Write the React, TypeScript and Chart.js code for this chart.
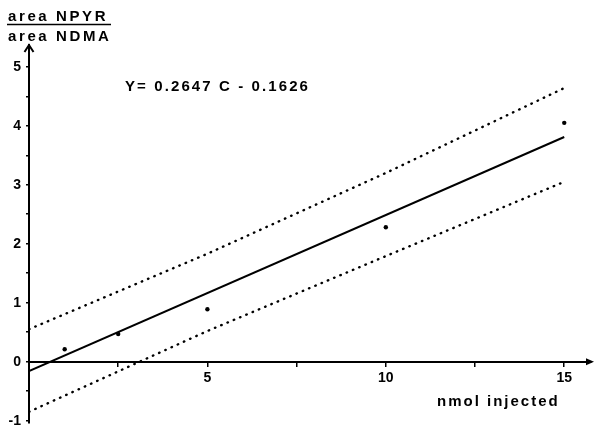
import React, { useEffect, useRef } from "react";
import { Chart, registerables } from "chart.js";

Chart.register(...registerables);

// Measured data points (nmol injected vs area ratio)
const pointX = [1, 2.5, 5, 10, 15];
const pointY = [0.21, 0.47, 0.89, 2.28, 4.05];

// Regression line Y = 0.2647 C - 0.1626 (ends)
const fitX = [0, 15];
const fitY = [-0.16, 3.81];

// Confidence bands (dotted)
const bandX = [0, 5, 10, 15];
const upperY = [0.55, 1.83, 3.2, 4.64];
const lowerY = [-0.85, 0.52, 1.79, 3.05];

// Ticks
const xTicks = [2.5, 5, 7.5, 10, 12.5, 15];
const xTickLabels = [5, 10, 15];
const yTicks = [-1, -0.5, 0, 0.5, 1, 1.5, 2, 2.5, 3, 3.5, 4, 4.5, 5];
const yTickLabels = [-1, 0, 1, 2, 3, 4, 5];

const titleTop = "area NPYR";
const titleBottom = "area NDMA";
const equation = "Y= 0.2647 C - 0.1626";
const xTitle = "nmol injected";

const FONT = "'Liberation Sans', Arial, sans-serif";

const pts = (xs: number[], ys: number[]) => xs.map((x, i) => ({ x, y: ys[i] }));

const decorPlugin = {
  id: "decor",
  afterDraw(chart: any) {
    const ctx = chart.ctx;
    const y = chart.scales.y;
    const left = chart.chartArea.left;
    const top = chart.chartArea.top;
    const right = chart.chartArea.right;
    const zeroY = y.getPixelForValue(0);
    ctx.save();
    ctx.strokeStyle = "#000";
    ctx.fillStyle = "#000";
    // y arrow (open)
    ctx.lineWidth = 2;
    ctx.beginPath();
    ctx.moveTo(left - 4.5, top + 7);
    ctx.lineTo(left, top);
    ctx.lineTo(left + 4.5, top + 7);
    ctx.stroke();
    // x arrow (filled)
    ctx.beginPath();
    ctx.moveTo(right + 3, zeroY);
    ctx.lineTo(right - 5, zeroY - 3.5);
    ctx.lineTo(right - 5, zeroY + 3.5);
    ctx.closePath();
    ctx.fill();

    ctx.font = `bold 15px ${FONT}`;
    ctx.textAlign = "left";
    ctx.textBaseline = "alphabetic";
    (ctx as any).letterSpacing = "2.6px";
    ctx.fillText(titleTop, 8, 21);
    ctx.fillText(titleBottom, 8, 41);
    ctx.lineWidth = 1.5;
    ctx.beginPath();
    ctx.moveTo(7, 24.5);
    ctx.lineTo(111, 24.5);
    ctx.stroke();
    (ctx as any).letterSpacing = "2.1px";
    ctx.fillText(equation, 125, 91);
    (ctx as any).letterSpacing = "2px";
    ctx.fillText(xTitle, 437, 406);
    ctx.restore();
  },
};

export default function App() {
  const ref = useRef<HTMLCanvasElement | null>(null);
  useEffect(() => {
    document.body.style.margin = "0";
    const canvas = ref.current;
    if (!canvas) return;
    const chart = new Chart(canvas, {
      type: "scatter",
      data: {
        datasets: [
          {
            data: pts(pointX, pointY),
            showLine: false,
            pointRadius: 2.2,
            pointBackgroundColor: "#000",
            pointBorderWidth: 0,
          },
          {
            data: pts(fitX, fitY),
            showLine: true,
            borderColor: "#000",
            borderWidth: 2,
            pointRadius: 0,
          },
          {
            data: pts(bandX, upperY),
            showLine: true,
            borderColor: "#000",
            borderWidth: 2.4,
            borderDash: [0.5, 6.3],
            borderCapStyle: "round",
            pointRadius: 0,
          },
          {
            data: pts(bandX, lowerY),
            showLine: true,
            borderColor: "#000",
            borderWidth: 2.4,
            borderDash: [0.5, 6.3],
            borderCapStyle: "round",
            pointRadius: 0,
          },
        ],
      } as any,
      options: {
        responsive: false,
        animation: false,
        events: [],
        layout: { padding: { left: 0, top: 45, right: 3, bottom: 8 } },
        plugins: { legend: { display: false }, tooltip: { enabled: false } },
        scales: {
          x: {
            type: "linear",
            min: 0,
            max: 15.75,
            position: { y: 0 } as any,
            border: { display: true, color: "#000", width: 2 },
            grid: {
              drawOnChartArea: false,
              drawTicks: true,
              tickLength: 4,
              color: "#000",
              lineWidth: 1.5,
            },
            ticks: {
              color: "#000",
              padding: 4,
              maxRotation: 0,
              font: { family: FONT, size: 14, weight: "bold" },
              callback: (v: any) => (xTickLabels.includes(Number(v)) ? String(v) : ""),
            },
            afterBuildTicks: (s: any) => {
              s.ticks = xTicks.map((v) => ({ value: v }));
            },
            afterFit: (s: any) => {
              s.paddingLeft = 0;
              s.paddingRight = 0;
            },
          },
          y: {
            type: "linear",
            min: -1.04,
            max: 5.37,
            position: "left",
            border: { display: true, color: "#000", width: 2 },
            grid: {
              drawOnChartArea: false,
              drawTicks: true,
              tickLength: 3,
              color: "#000",
              lineWidth: 1.5,
            },
            ticks: {
              color: "#000",
              padding: 5,
              font: { family: FONT, size: 14, weight: "bold" },
              callback: (v: any) => (yTickLabels.includes(Number(v)) ? String(v) : ""),
            },
            afterBuildTicks: (s: any) => {
              s.ticks = yTicks.map((v) => ({ value: v }));
            },
            afterFit: (s: any) => {
              s.width = 29;
              s.paddingTop = 0;
              s.paddingBottom = 0;
            },
          },
        },
      } as any,
      plugins: [decorPlugin],
    });
    return () => chart.destroy();
  }, []);
  return (
    <div style={{ width: 595, height: 431, background: "#fff" }}>
      <canvas ref={ref} width={595} height={431} style={{ display: "block" }} />
    </div>
  );
}
